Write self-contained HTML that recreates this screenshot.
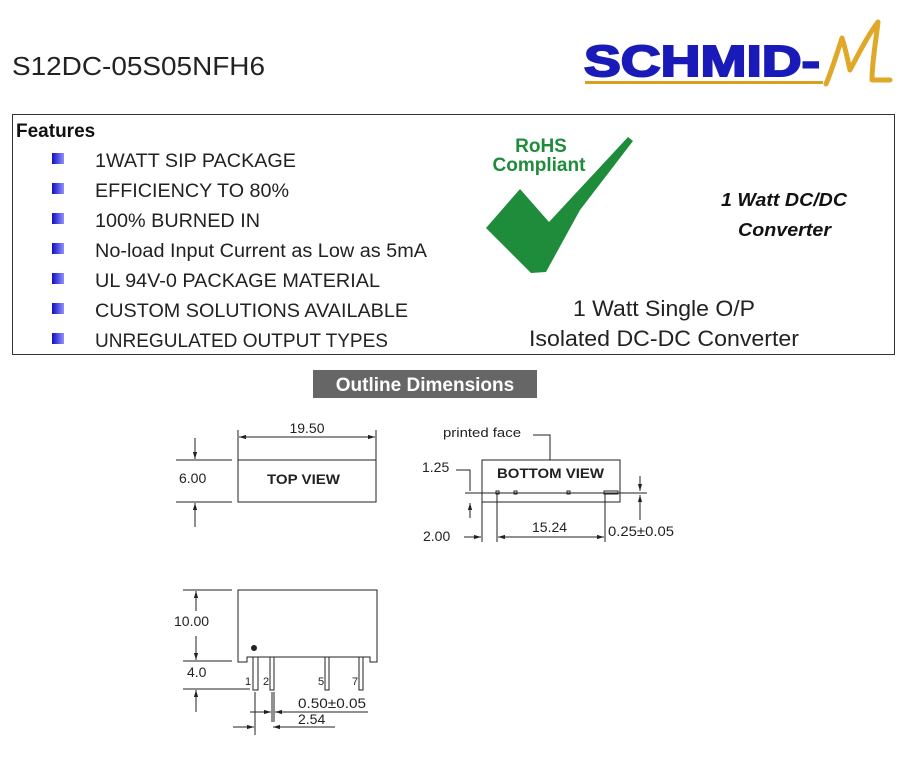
<!DOCTYPE html>
<html><head><meta charset="utf-8"><style>
html,body{margin:0;padding:0;background:#fff;}
svg{display:block;font-family:"Liberation Sans",Arial,sans-serif;}
</style></head><body>
<svg width="920" height="760" viewBox="0 0 920 760" xmlns="http://www.w3.org/2000/svg">
<defs>
<linearGradient id="bul" x1="0" x2="1"><stop offset="0" stop-color="#1010c0"/><stop offset="1" stop-color="#9090ff"/></linearGradient>
<marker id="ar" viewBox="0 0 10 10" refX="10" refY="5" markerWidth="7" markerHeight="7" orient="auto-start-reverse"><path d="M0,2 L10,5 L0,8 z" fill="#222"/></marker>
</defs>
<text x="12" y="75" font-size="26" fill="#222" textLength="253" lengthAdjust="spacingAndGlyphs">S12DC-05S05NFH6</text>
<text x="584" y="76" font-size="44" font-weight="bold" fill="#1a1ab8" textLength="236" lengthAdjust="spacingAndGlyphs" stroke="#1a1ab8" stroke-width="2">SCHMID-</text>
<rect x="585" y="81" width="238" height="3" fill="#d8a020"/>
<path d="M826,84 C832,70 838,50 842,38 C846,50 848,62 850,70 C858,55 868,35 878,22 C876,40 872,62 872,80 L890,80" fill="none" stroke="#e0a828" stroke-width="5" stroke-linecap="round" stroke-linejoin="round"/>
<rect x="12.5" y="114.5" width="882" height="240" fill="none" stroke="#333" stroke-width="1"/>
<text x="16" y="137" font-size="19" font-weight="bold" fill="#111">Features</text>
<g font-size="19" fill="#222">
<rect x="52" y="153" width="12" height="11" fill="url(#bul)"/><text x="95" y="167" textLength="201" lengthAdjust="spacingAndGlyphs">1WATT SIP PACKAGE</text>
<rect x="52" y="183" width="12" height="11" fill="url(#bul)"/><text x="95" y="197" textLength="194" lengthAdjust="spacingAndGlyphs">EFFICIENCY TO 80%</text>
<rect x="52" y="213" width="12" height="11" fill="url(#bul)"/><text x="95" y="227" textLength="165" lengthAdjust="spacingAndGlyphs">100% BURNED IN</text>
<rect x="52" y="243" width="12" height="11" fill="url(#bul)"/><text x="95" y="257" textLength="332" lengthAdjust="spacingAndGlyphs">No-load Input Current as Low as 5mA</text>
<rect x="52" y="273" width="12" height="11" fill="url(#bul)"/><text x="95" y="287" textLength="285" lengthAdjust="spacingAndGlyphs">UL 94V-0 PACKAGE MATERIAL</text>
<rect x="52" y="303" width="12" height="11" fill="url(#bul)"/><text x="95" y="317" textLength="313" lengthAdjust="spacingAndGlyphs">CUSTOM SOLUTIONS AVAILABLE</text>
<rect x="52" y="333" width="12" height="11" fill="url(#bul)"/><text x="95" y="347" textLength="293" lengthAdjust="spacingAndGlyphs">UNREGULATED OUTPUT TYPES</text>
</g>
<path d="M486,228 L520,189 L549,222 L628,137 L633,141 L580,210 L546,272 L531,273 Z" fill="#1e8c3a"/>
<text x="541" y="152" font-size="19" font-weight="bold" fill="#1e8c3a" text-anchor="middle">RoHS</text>
<text x="539" y="171" font-size="19" font-weight="bold" fill="#1e8c3a" text-anchor="middle">Compliant</text>
<text x="721" y="206" font-size="18" font-weight="bold" font-style="italic" fill="#111" textLength="126" lengthAdjust="spacingAndGlyphs">1 Watt DC/DC</text>
<text x="738" y="236" font-size="18" font-weight="bold" font-style="italic" fill="#111" textLength="93" lengthAdjust="spacingAndGlyphs">Converter</text>
<text x="573" y="316" font-size="22" fill="#222" textLength="182" lengthAdjust="spacingAndGlyphs">1 Watt Single O/P</text>
<text x="529" y="346" font-size="22" fill="#222" textLength="270" lengthAdjust="spacingAndGlyphs">Isolated DC-DC Converter</text>
<rect x="313" y="370" width="224" height="28" fill="#666"/>
<text x="425" y="391" font-size="19" font-weight="bold" fill="#fff" text-anchor="middle">Outline Dimensions</text>
<g stroke="#222" stroke-width="1" fill="none">
<rect x="238" y="460" width="138" height="42"/>
<line x1="238" y1="430" x2="238" y2="460"/><line x1="376" y1="430" x2="376" y2="460"/>
<line x1="239" y1="437" x2="375" y2="437" marker-start="url(#ar)" marker-end="url(#ar)"/>
<line x1="176" y1="460" x2="232" y2="460"/><line x1="176" y1="502" x2="232" y2="502"/>
<line x1="195" y1="438" x2="195" y2="459" marker-end="url(#ar)"/>
<line x1="195" y1="527" x2="195" y2="503" marker-end="url(#ar)"/>
<rect x="482" y="460" width="138" height="42"/>
<line x1="465" y1="493" x2="647" y2="493"/>
<rect x="496" y="491" width="3" height="3"/><rect x="514" y="491" width="3" height="3"/><rect x="567" y="491" width="3" height="3"/><rect x="604" y="491" width="14" height="3"/>
<line x1="482" y1="502" x2="482" y2="542"/><line x1="497" y1="494" x2="497" y2="542"/><line x1="605" y1="494" x2="605" y2="542"/>
<line x1="464" y1="537" x2="481" y2="537" marker-end="url(#ar)"/>
<line x1="498" y1="537" x2="604" y2="537" marker-start="url(#ar)" marker-end="url(#ar)"/>
<line x1="640" y1="476" x2="640" y2="491" marker-end="url(#ar)"/>
<line x1="640" y1="520" x2="640" y2="495" marker-end="url(#ar)"/>
<polyline points="456,470 470,470 470,491"/>
<line x1="470" y1="518" x2="470" y2="503" marker-end="url(#ar)"/>
<polyline points="533,435 550,435 550,460"/>
<path d="M238,662 L238,590 L377,590 L377,662 L370,662 L370,657 L247,657 L247,662 Z"/>
<rect x="253" y="657" width="5" height="33"/><rect x="270" y="657" width="4" height="33"/>
<rect x="325" y="657" width="4" height="33"/><rect x="359" y="657" width="4" height="33"/>
<line x1="183" y1="590" x2="232" y2="590"/><line x1="183" y1="661" x2="232" y2="661"/><line x1="183" y1="689" x2="250" y2="689"/>
<line x1="196" y1="611" x2="196" y2="591" marker-end="url(#ar)"/>
<line x1="196" y1="636" x2="196" y2="660" marker-end="url(#ar)"/>
<line x1="196" y1="712" x2="196" y2="690" marker-end="url(#ar)"/>
<line x1="272" y1="692" x2="272" y2="722"/><line x1="274" y1="692" x2="274" y2="722"/>
<line x1="255" y1="692" x2="255" y2="735"/>
<line x1="250" y1="712" x2="271" y2="712" marker-end="url(#ar)"/>
<line x1="368" y1="712" x2="275" y2="712" marker-end="url(#ar)"/>
<line x1="233" y1="727" x2="254" y2="727" marker-end="url(#ar)"/>
<line x1="335" y1="727" x2="273" y2="727" marker-end="url(#ar)"/>
</g>
<circle cx="254" cy="648" r="3" fill="#222"/>
<g font-size="14" fill="#222">
<text x="307" y="433" text-anchor="middle">19.50</text>
<text x="179" y="483">6.00</text>
<text x="267" y="484" font-weight="bold" textLength="73" lengthAdjust="spacingAndGlyphs">TOP VIEW</text>
<text x="497" y="478" font-weight="bold" textLength="107" lengthAdjust="spacingAndGlyphs">BOTTOM VIEW</text>
<text x="443" y="437" font-size="13" textLength="78" lengthAdjust="spacingAndGlyphs">printed face</text>
<text x="422" y="472">1.25</text>
<text x="423" y="541">2.00</text>
<text x="532" y="532">15.24</text>
<text x="608" y="536" textLength="66" lengthAdjust="spacingAndGlyphs">0.25±0.05</text>
<text x="174" y="626">10.00</text>
<text x="187" y="677">4.0</text>
<text x="245" y="685" font-size="11">1</text><text x="263" y="685" font-size="11">2</text>
<text x="318" y="685" font-size="11">5</text><text x="352" y="685" font-size="11">7</text>
<text x="298" y="708" textLength="68" lengthAdjust="spacingAndGlyphs">0.50±0.05</text>
<text x="298" y="724">2.54</text>
</g>
</svg>
</body></html>
